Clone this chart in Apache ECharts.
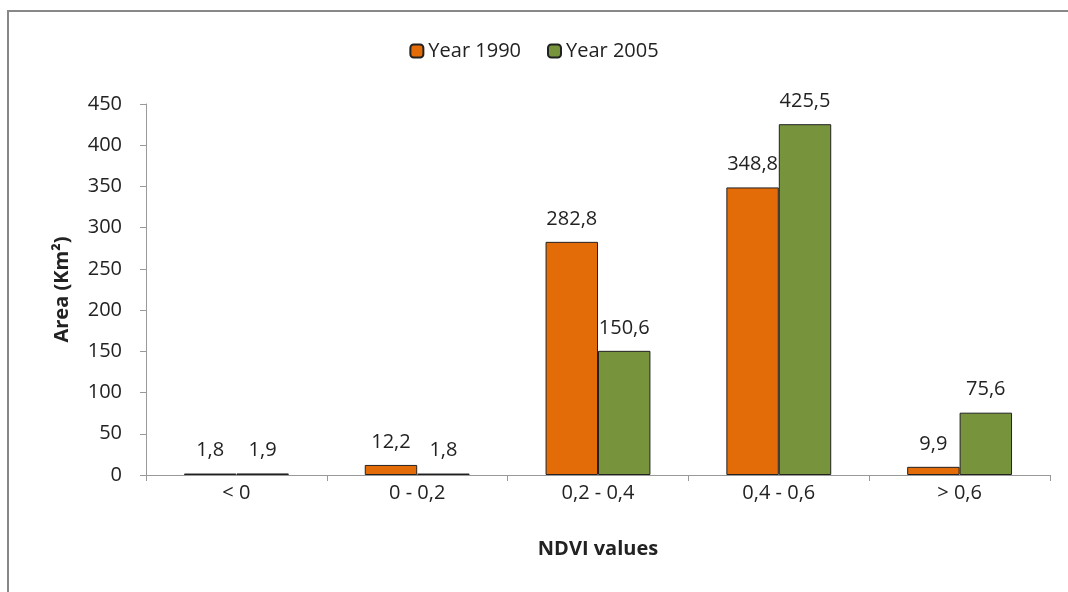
<!DOCTYPE html>
<html>
<head>
<meta charset="utf-8">
<script src="https://cdn.jsdelivr.net/npm/echarts@6/dist/echarts.min.js"></script>
<style>html,body{margin:0;padding:0;background:#fff}#c{width:1068px;height:592px}</style>
</head>
<body>
<div id="c"></div>
<script>
const categories = ['< 0', '0 - 0,2', '0,2 - 0,4', '0,4 - 0,6', '> 0,6'];
const year1990 = [1.8, 12.2, 282.8, 348.8, 9.9];
const year2005 = [1.9, 1.8, 150.6, 425.5, 75.6];
const seriesNames = ['Year 1990', 'Year 2005'];
const yTicks = { min: 0, max: 450, interval: 50 };

const FONT = '"Open Sans", "Noto Sans", sans-serif';
const chart = echarts.init(document.getElementById('c'), null, { renderer: 'canvas' });
const fmt = p => String(p.value).replace('.', ',');
const labelCfg = { show: true, position: 'top', distance: 13, color: '#222', fontSize: 20, fontFamily: FONT, formatter: fmt };
chart.setOption({
  animation: false,
  backgroundColor: '#fff',
  graphic: [
    { type: 'line', shape: { x1: 8, y1: 11, x2: 1068, y2: 11 }, style: { stroke: '#888', lineWidth: 2 } },
    { type: 'line', shape: { x1: 8, y1: 10, x2: 8, y2: 592 }, style: { stroke: '#888', lineWidth: 2 } }
  ],
  legend: {
    top: 36, left: 'center', itemWidth: 13, itemHeight: 13, itemGap: 26,
    textStyle: { fontSize: 20, fontFamily: FONT, color: '#222' },
    data: seriesNames
  },
  grid: { left: 146, right: 18, top: 104, bottom: 117 },
  xAxis: {
    type: 'category', data: categories,
    name: 'NDVI values', nameLocation: 'middle', nameGap: 64,
    nameTextStyle: { fontSize: 20, fontWeight: 'bold', fontFamily: FONT, color: '#222' },
    axisLine: { lineStyle: { color: '#999' } },
    axisTick: { show: true, length: 6, lineStyle: { color: '#999' } },
    axisLabel: { fontSize: 20, fontFamily: FONT, color: '#222', margin: 8 }
  },
  yAxis: {
    type: 'value', min: yTicks.min, max: yTicks.max, interval: yTicks.interval,
    name: 'Area (Km²)', nameLocation: 'middle', nameGap: 74, nameRotate: 90,
    nameTextStyle: { fontSize: 20, fontWeight: 'bold', fontFamily: FONT, color: '#222' },
    axisLine: { show: true, lineStyle: { color: '#999' } },
    axisTick: { show: true, length: 6, lineStyle: { color: '#999' } },
    splitLine: { show: false },
    axisLabel: { fontSize: 20, fontFamily: FONT, color: '#222', margin: 24 }
  },
  series: [
    { name: seriesNames[0], type: 'bar', data: year1990, barGap: '0%', barCategoryGap: '42%',
      itemStyle: { color: '#E36C09', borderColor: '#222', borderWidth: 1 }, label: labelCfg },
    { name: seriesNames[1], type: 'bar', data: year2005, barGap: '0%', barCategoryGap: '42%',
      itemStyle: { color: '#77933C', borderColor: '#222', borderWidth: 1 }, label: labelCfg }
  ]
});
</script>
</body>
</html>
